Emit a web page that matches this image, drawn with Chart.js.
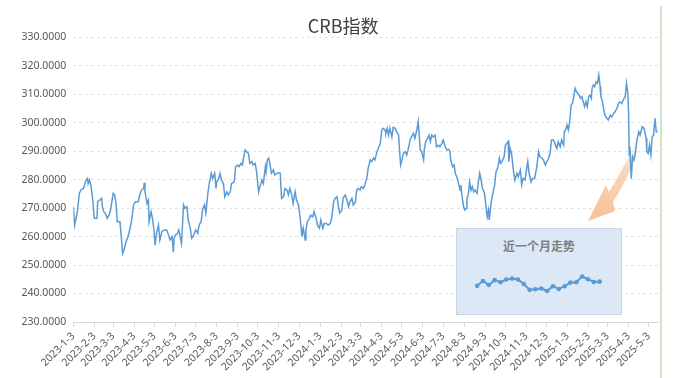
<!DOCTYPE html>
<html><head><meta charset="utf-8">
<script src="https://cdn.jsdelivr.net/npm/chart.js@4.4.1/dist/chart.umd.min.js"></script>
<style>
html,body{margin:0;padding:0;background:#fff;}
#wrap{position:relative;width:678px;height:378px;overflow:hidden;background:#fff;}
#main{position:absolute;left:0;top:0;}
#inset{position:absolute;left:456px;top:228px;width:166px;height:87px;box-sizing:border-box;background:#dce8f5;border:1px dotted #b4c4d6;}
#insetTitle{position:absolute;left:456px;top:236px;width:166px;text-align:center;font:bold 12px "Noto Sans CJK SC";color:#7f7f7f;line-height:20px;}
#mini{position:absolute;left:456px;top:228px;}
#edge{position:absolute;left:660px;top:6px;width:2px;height:372px;background:#cfe5c6;}
</style></head>
<body>
<div id="wrap">
<canvas id="main" width="678" height="378"></canvas>
<div id="inset"></div>
<div id="insetTitle">近一个月走势</div>
<canvas id="mini" width="166" height="87"></canvas>
<div id="edge"></div>
</div>
<script>
const chartTitle = 'CRB指数';
const insetTitle = '近一个月走势';
const startDate = '2023-01-03';
// days since startDate
const dayOffsets = [
0,2,6,9,12,15,19,21,22,24,
26,27,29,31,35,36,39,42,43,45,
48,50,53,55,57,59,61,63,65,69,
72,73,75,78,81,84,87,89,92,96,
99,101,104,105,106,109,111,112,115,117,
119,121,123,126,128,131,134,138,140,143,
146,148,149,151,154,156,158,160,163,165,
168,170,173,175,177,181,184,186,189,191,
194,196,199,201,204,206,209,211,212,214,
217,219,222,224,227,229,232,234,238,240,
243,245,248,250,252,254,256,259,261,264,
266,269,271,274,276,279,281,284,285,287,
289,291,293,296,298,301,303,306,308,311,
313,316,318,320,323,325,328,330,333,335,
337,338,340,343,344,346,349,351,354,356,
359,361,364,366,369,371,374,377,380,382,
385,387,390,392,394,397,399,402,404,407,
409,412,414,417,419,421,424,426,429,431,
434,436,439,441,444,446,449,451,454,456,
458,461,462,464,466,468,471,473,476,478,
481,482,484,486,488,491,493,495,498,500,
503,505,508,510,512,513,515,518,519,521,
524,526,528,530,532,535,537,540,542,545,
547,550,552,555,557,558,561,563,565,567,
569,572,573,574,577,579,581,582,584,586,
588,590,592,594,597,599,601,603,605,608,
610,612,614,615,618,620,623,625,628,630,
632,634,637,639,641,643,644,646,648,651,
653,656,658,661,663,665,668,670,672,674,
677,679,682,685,688,690,693,695,698,700,
702,705,707,710,712,715,717,720,722,725,
726,728,730,732,734,736,738,740,742,744,
746,748,750,752,754,756,758,760,762,764,
766,767,769,771,773,775,777,779,780,782,
784,786,789,791,794,796,799,801,804,806,
808,811,813,816,818,820,821,822,823,825,
827,829,831,833,836,838,840,841,844,847,
848,850,852,854,856,858,860,862,864
];
const crbValues = [
270.4,264.0,268.7,275.2,276.6,276.9,279.8,280.4,278.6,279.8,
278.1,276.3,272.2,266.4,266.4,272.2,272.8,273.4,270.5,268.7,
267.9,266.4,267.5,269.3,272.2,275.2,274.6,272.2,265.2,265.2,
257.0,254.1,255.3,258.2,260.0,262.9,266.9,271.1,272.2,272.2,
275.2,276.3,276.9,278.9,275.7,271.6,272.8,265.2,268.7,266.4,
262.9,257.0,261.1,264.0,258.8,261.7,262.3,262.3,261.1,258.8,
260.0,254.5,259.4,260.5,261.1,262.3,260.0,257.6,271.1,269.9,
270.5,265.8,262.9,259.4,260.0,262.3,261.1,264.0,265.2,269.3,
271.1,268.2,275.2,278.6,282.2,280.4,282.2,276.9,279.2,279.8,
282.2,279.8,278.6,274.0,275.7,274.6,275.7,278.6,279.2,284.5,
285.1,284.5,285.7,285.1,288.0,290.4,289.8,289.2,285.7,286.3,
285.1,285.7,282.7,275.7,277.5,279.8,278.6,284.5,282.7,286.9,
287.5,285.1,282.2,283.3,281.6,282.2,282.4,282.2,273.4,274.0,
276.9,276.3,274.6,276.9,274.6,271.6,275.7,272.8,271.1,267.5,
262.9,260.0,262.9,258.8,262.3,265.2,266.4,267.5,266.9,268.7,
266.4,264.0,262.9,265.8,262.9,264.6,264.6,264.0,264.6,266.4,
272.2,273.4,274.0,270.5,268.2,269.3,273.4,274.6,273.4,270.5,
272.2,273.4,271.1,272.0,276.3,276.9,276.3,277.5,276.9,278.1,
280.4,283.9,286.9,286.3,287.5,286.9,289.8,290.9,292.7,297.4,
298.0,297.4,296.2,298.0,295.6,298.0,295.0,298.3,298.0,296.8,
295.6,291.5,285.1,286.9,289.2,289.8,288.6,290.4,293.9,295.0,
296.2,294.5,297.4,300.3,293.9,290.4,289.8,286.9,290.4,293.3,
294.5,295.6,293.3,295.6,295.0,295.6,291.5,292.1,291.5,292.7,
293.9,291.5,290.4,290.6,289.8,286.9,284.5,285.1,282.0,281.0,
279.2,276.3,278.1,275.7,270.5,269.3,269.9,273.4,274.6,279.2,
276.3,277.5,275.7,276.3,275.2,279.2,282.2,279.8,276.9,275.2,
271.1,266.9,269.3,265.8,272.2,274.6,278.1,282.7,284.5,287.5,
285.7,286.3,288.0,292.1,292.7,293.4,286.3,290.9,289.2,282.7,
279.8,282.2,281.0,283.3,278.1,280.4,279.8,283.3,286.3,282.2,
279.2,280.4,280.4,283.9,289.8,288.0,287.5,286.9,285.1,286.3,
286.9,289.2,293.9,293.9,292.7,290.9,293.3,291.5,293.9,292.1,
296.8,297.4,299.1,297.4,300.3,306.1,306.7,309.1,312.0,310.8,
310.2,309.6,308.5,309.1,307.3,305.6,307.3,305.6,309.1,309.6,
308.5,312.0,313.2,312.6,314.3,313.8,316.7,312.6,309.1,307.9,
305.0,302.6,301.5,300.9,302.6,302.0,303.2,303.8,305.0,306.7,
307.3,306.7,307.9,309.1,313.8,310.2,303.8,288.6,291.5,280.4,
288.0,286.9,289.2,293.3,296.8,295.6,297.4,298.5,298.0,294.5,
289.8,289.2,292.1,288.6,295.0,295.6,301.5,296.8,296.6
];
const tickLabels = [
'2023-1-3','2023-2-3','2023-3-3','2023-4-3','2023-5-3','2023-6-3','2023-7-3','2023-8-3','2023-9-3','2023-10-3','2023-11-3','2023-12-3',
'2024-1-3','2024-2-3','2024-3-3','2024-4-3','2024-5-3','2024-6-3','2024-7-3','2024-8-3','2024-9-3','2024-10-3','2024-11-3','2024-12-3',
'2025-1-3','2025-2-3','2025-3-3','2025-4-3','2025-5-3'
];
const yMin = 230, yMax = 330, yStep = 10;
const xMaxDay = 865;
const insetValues = [294.85,297.5,295.35,298,296.85,298.35,298.85,298.35,295.85,292.65,293,293.35,292,294.65,293.15,294.65,296.65,296.85,300,298.5,297,297.15];

function toUTC(s){const p=s.split('-').map(Number);return Date.UTC(p[0],p[1]-1,p[2]);}
const t0 = toUTC(startDate);
const tickOffsets = tickLabels.map(s => Math.round((toUTC(s)-t0)/86400000));

const FONT = '"Noto Sans", "Open Sans", sans-serif';

const arrowPlugin = {
  id:'arrow',
  afterLayout(chart){
    if (chart.titleBlock) { chart.titleBlock.left = 28; }
  },
  beforeDatasetsDraw(chart){
    const ctx = chart.ctx;
    ctx.save();
    const g = ctx.createLinearGradient(638,142,596,214);
    g.addColorStop(0,'rgba(248,203,168,0)');
    g.addColorStop(0.35,'rgba(248,200,162,0.75)');
    g.addColorStop(1,'rgba(247,195,155,1)');
    ctx.fillStyle = g;
    ctx.beginPath();
    ctx.moveTo(636,141);
    ctx.lineTo(639,146);
    ctx.quadraticCurveTo(630,176,613,202);
    ctx.lineTo(615,211);
    ctx.lineTo(588,221);
    ctx.lineTo(606,185);
    ctx.lineTo(609,192);
    ctx.quadraticCurveTo(624,168,636,141);
    ctx.closePath();
    ctx.fill();
    ctx.restore();
  }
};

new Chart(document.getElementById('main'), {
  type:'line',
  data:{ datasets:[{
    data: dayOffsets.map((d,i)=>({x:d,y:crbValues[i]})),
    borderColor:'#5b9bd5', borderWidth:1.5, pointRadius:0, tension:0, fill:false
  }]},
  options:{
    responsive:false, animation:false, devicePixelRatio:1,
    layout:{padding:{left:0,right:19.7,top:0,bottom:0}},
    plugins:{
      legend:{display:false}, tooltip:{enabled:false},
      title:{display:true,text:chartTitle,color:'#404040',font:{family:'"Noto Sans CJK SC"',size:18,weight:'normal'},padding:{top:15.5,bottom:0}}
    },
    scales:{
      x:{
        type:'linear', min:0, max:xMaxDay,
        afterBuildTicks:s=>{s.ticks = tickOffsets.map(v=>({value:v}));},
        ticks:{autoSkip:false,minRotation:45,maxRotation:45,padding:3,color:'#595959',font:{family:FONT,size:10.5},
          callback:(v,i)=>tickLabels[i]},
        grid:{drawOnChartArea:false,drawTicks:true,tickLength:5,color:'#d9d9d9'},
        border:{display:true,color:'#d9d9d9',width:1},
        afterFit:s=>{s.height=56;}
      },
      y:{
        min:yMin,max:yMax,
        ticks:{stepSize:yStep,padding:7,color:'#595959',font:{family:FONT,size:10.5},callback:v=>Number(v).toFixed(4)},
        grid:{color:'#e3e3e3',drawTicks:false,lineWidth:1},
        border:{display:false,dash:[3,3]},
        afterFit:s=>{s.width=73.3;}
      }
    }
  },
  plugins:[arrowPlugin]
});

new Chart(document.getElementById('mini'), {
  type:'line',
  data:{ datasets:[{
    data: insetValues.map((v,i)=>({x:i,y:v})),
    borderColor:'#5b9bd5', borderWidth:2, pointRadius:2.3, pointBackgroundColor:'#5b9bd5', pointBorderColor:'#5b9bd5', pointBorderWidth:0, tension:0, fill:false
  }]},
  options:{
    responsive:false, animation:false, devicePixelRatio:1,
    layout:{padding:0},
    plugins:{legend:{display:false}, tooltip:{enabled:false}},
    scales:{
      x:{type:'linear',display:false,min:-2.937,max:24.149},
      y:{display:false,min:281,max:324.5}
    }
  }
});
</script>
</body></html>
